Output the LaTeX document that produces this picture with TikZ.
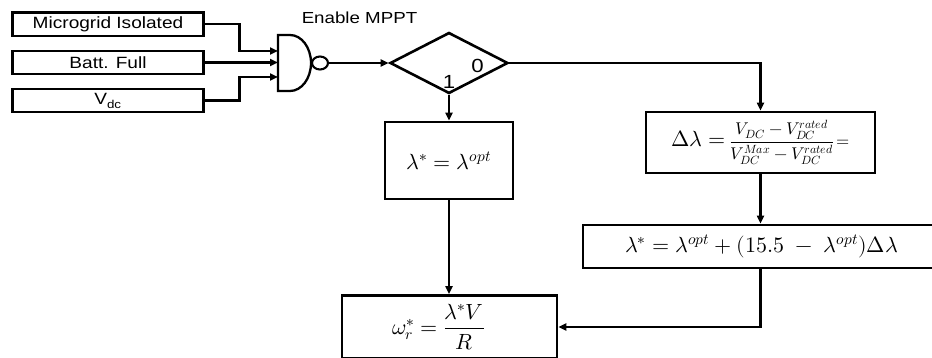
\documentclass[tikz,border=0pt]{standalone}
\usepackage{amsmath}
\usepackage{fontspec}
\usepackage{unicode-math}
\setmainfont{Liberation Sans}[FakeStretch=1.17]
\setmathfont{Latin Modern Math}
\usetikzlibrary{arrows.meta,shapes.geometric}
\begin{document}
\begin{tikzpicture}[x=1pt,y=-1pt,
  box/.style={draw, line width=2.8pt, inner sep=0pt},
  inbox/.style={draw, line width=2.2pt, minimum width=191pt, minimum height=23.5pt, inner sep=0pt, font=\fontsize{16.3}{18}\selectfont},
  conn/.style={line width=2.3pt},
  arr/.style={conn, -{Triangle[length=8pt,width=7pt]}},
  mathfont/.style={font=\fontsize{22}{26}\selectfont}]
\useasboundingbox (0,0) rectangle (932,358);
% input boxes
\node[inbox] (in1) at (108,24.3) {Microgrid Isolated};
\node[inbox] (in2) at (108,62.5) {Batt. Full};
\node[inbox] (in3) at (108,100.5) {V\textsubscript{dc}};
% NAND gate
\draw[line width=2.3pt] (278,35) -- (290,35) arc[start angle=90,end angle=-90,x radius=21pt,y radius=28pt] -- (278,91) -- cycle;
\node[draw, ellipse, line width=2.1pt, minimum width=16pt, minimum height=13pt, inner sep=0pt] (bub) at (320,63) {};
\coordinate (g1) at (278,51);
\coordinate (g2) at (278,62.5);
\coordinate (g3) at (278,77);
\node[font=\fontsize{16}{20}\selectfont, anchor=base] (en) at (359.5,24) {Enable MPPT};
% decision
\node[draw, diamond, line width=2.6pt, minimum width=118pt, minimum height=61pt, inner sep=0pt] (dec) at (449,63) {};
\node[font=\fontsize{19}{22}\selectfont] (one) at (449,81.5) {1};
\node[font=\fontsize{19}{22}\selectfont] (zero) at (477.5,66) {0};
% boxes
\node[box, minimum width=128pt, minimum height=77pt, mathfont] (lopt) at (449,160.5) {$\lambda^{*}=\lambda^{opt}$};
\node[box, minimum width=229pt, minimum height=61pt, mathfont] (dl) at (760.5,142.5) {$\Delta\lambda=$\,{\fontsize{17}{20}\selectfont$\dfrac{\displaystyle V_{DC}-V_{DC}^{rated}}{\displaystyle V_{DC}^{Max}-V_{DC}^{rated}}\!=$}};
\node[box, minimum width=357pt, minimum height=43pt, mathfont] (lam) at (761.5,246.5) {$\lambda^{*}=\lambda^{opt}+(15.5\;-\;\lambda^{opt})\Delta\lambda$};
\node[box, minimum width=215pt, minimum height=63pt, font=\fontsize{22}{26}\selectfont] (om) at (449.5,327) {$\omega_{r}^{*}=\dfrac{\lambda^{*}V}{R}$\hspace*{22pt}};
% connectors
\draw[arr] (in1.east) -- ++(35,0) |- (g1);
\draw[arr] (in2.east) -- (g2);
\draw[arr] (in3.east) -- ++(35,0) |- (g3);
\draw[arr] (bub.east) -- (dec.west);
\draw[arr] (dec.south) -- (lopt.north);
\draw[arr] (dec.east) -| (dl.north);
\draw[arr] (dl.south) -- (lam.north -| dl.south);
\draw[arr] (lopt.south) -- (om.north -| lopt.south);
\draw[arr] (lam.south -| dl.south) |- (om.east);
\end{tikzpicture}
\end{document}
